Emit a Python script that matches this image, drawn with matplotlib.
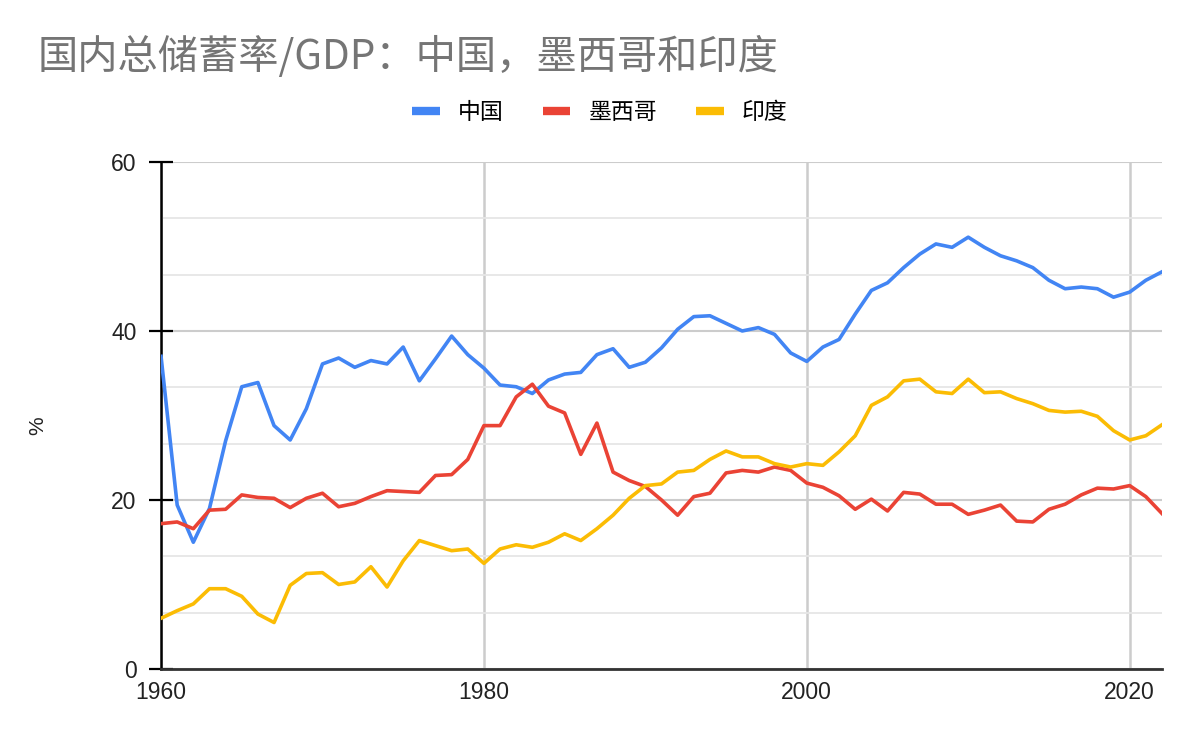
import numpy as np
import matplotlib.pyplot as plt
from matplotlib.lines import Line2D

years = list(range(1960, 2023))

china = [37.0, 19.4, 15.0, 19.0, 27.0, 33.4, 33.9, 28.8, 27.1, 30.8,
         36.1, 36.8, 35.7, 36.5, 36.1, 38.1, 34.1, 36.7, 39.4, 37.2,
         35.6, 33.6, 33.4, 32.6, 34.2, 34.9, 35.1, 37.2, 37.9, 35.7,
         36.3, 38.0, 40.2, 41.7, 41.8, 40.9, 40.0, 40.4, 39.6, 37.4,
         36.4, 38.1, 39.0, 42.0, 44.8, 45.7, 47.5, 49.1, 50.3, 49.9,
         51.1, 49.9, 48.9, 48.3, 47.5, 46.0, 45.0, 45.2, 45.0, 44.0,
         44.6, 46.0, 47.0]

mexico = [17.2, 17.4, 16.6, 18.8, 18.9, 20.6, 20.3, 20.2, 19.1, 20.2,
          20.8, 19.2, 19.6, 20.4, 21.1, 21.0, 20.9, 22.9, 23.0, 24.8,
          28.8, 28.8, 32.2, 33.7, 31.1, 30.3, 25.4, 29.1, 23.3, 22.3,
          21.6, 20.0, 18.2, 20.4, 20.8, 23.2, 23.5, 23.3, 23.9, 23.5,
          22.0, 21.5, 20.5, 18.9, 20.1, 18.7, 20.9, 20.7, 19.5, 19.5,
          18.3, 18.8, 19.4, 17.5, 17.4, 18.9, 19.5, 20.6, 21.4, 21.3,
          21.7, 20.4, 18.4]

india = [6.0, 6.9, 7.7, 9.5, 9.5, 8.6, 6.5, 5.5, 9.9, 11.3,
         11.4, 10.0, 10.3, 12.1, 9.7, 12.8, 15.2, 14.6, 14.0, 14.2,
         12.5, 14.2, 14.7, 14.4, 15.0, 16.0, 15.2, 16.6, 18.2, 20.2,
         21.7, 21.9, 23.3, 23.5, 24.8, 25.8, 25.1, 25.1, 24.3, 23.9,
         24.3, 24.1, 25.7, 27.6, 31.2, 32.2, 34.1, 34.3, 32.8, 32.6,
         34.3, 32.7, 32.8, 32.0, 31.4, 30.6, 30.4, 30.5, 29.9, 28.2,
         27.1, 27.6, 28.9]

series_names = ['中国', '墨西哥', '印度']
colors = ['#4285F4', '#EA4335', '#FBBC04']

plt.rcParams['font.family'] = ['Liberation Sans', 'Noto Sans CJK SC']

fig = plt.figure(figsize=(12, 7.42), dpi=100)
ax = fig.add_axes([0.1342, 0.0984, 0.8341, 0.6833])

for vals, name, c in zip([china, mexico, india], series_names, colors):
    ax.plot(years, vals, color=c, lw=2.6, label=name, zorder=3)

ax.set_xlim(1960, 2022)
ax.set_ylim(0, 60)

# grid: major every 20, minor every 20/3
ax.set_yticks([0, 20, 40, 60])
ax.set_yticks(np.arange(0, 60.01, 20 / 3), minor=True)
ax.set_xticks([1960, 1980, 2000, 2020])
ax.grid(which='major', axis='y', color='#cccccc', lw=1.5)
ax.grid(which='minor', axis='y', color='#e6e6e6', lw=1.3)
ax.grid(which='major', axis='x', color='#cccccc', lw=1.8)
ax.tick_params(axis='y', which='minor', length=0)
ax.tick_params(axis='y', which='major', direction='inout', length=17, width=1.6,
               color='black', labelsize=16.5, pad=9, labelcolor='#222222')
ax.tick_params(axis='x', length=0, labelsize=16.5, pad=9, labelcolor='#222222')

for s in ['top', 'right']:
    ax.spines[s].set_visible(False)
ax.spines['left'].set_color('black')
ax.spines['left'].set_linewidth(1.8)
ax.spines['bottom'].set_color('#333333')
ax.spines['bottom'].set_linewidth(2)
ax.set_axisbelow(True)

ax.set_ylabel('%', fontsize=15, color='#222222')
ax.yaxis.set_label_coords(-0.114, 0.48)

fig.text(0.031, 0.923, '国内总储蓄率/GDP：中国，墨西哥和印度', fontsize=29,
         color='#757575', family=['Noto Sans CJK SC'], va='center', ha='left')

handles = [Line2D([0], [0], color=c, lw=6, solid_capstyle='butt') for c in colors]
fig.legend(handles, series_names, loc='center', bbox_to_anchor=(0.5, 0.848),
           ncol=3, frameon=False, handlelength=1.2, handletextpad=0.8,
           columnspacing=1.7, prop={'family': 'Noto Sans CJK SC', 'size': 16.5})

fig.savefig('out.png', dpi=100)
